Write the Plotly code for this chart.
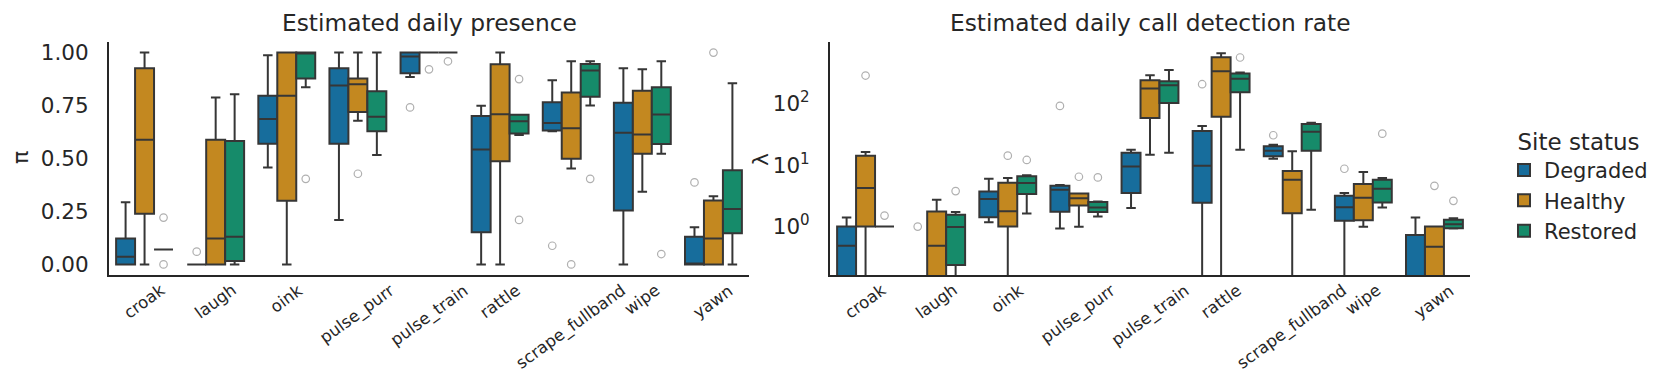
import numpy as np
import plotly.graph_objects as go
from plotly.subplots import make_subplots

categories = ["croak", "laugh", "oink", "pulse_purr", "pulse_train",
              "rattle", "scrape_fullband", "wipe", "yawn"]
statuses = ["Degraded", "Healthy", "Restored"]
colors = ["#176d9c", "#c38820", "#168b6a"]

# each row: (lower whisker, q1, median, q3, upper whisker), one per call type
presence_degraded = [
    (0, 0, 0.036, 0.122, 0.294), (0, 0, 0, 0, 0), (0.458, 0.570, 0.686, 0.796, 0.987),
    (0.21, 0.570, 0.845, 0.926, 1.0), (0.885, 0.902, 0.981, 1.0, 1.0), (0, 0.152, 0.543, 0.701, 0.749),
    (0.629, 0.632, 0.668, 0.765, 0.870), (0, 0.254, 0.622, 0.763, 0.926), (0, 0, 0, 0.131, 0.175),
]
presence_healthy = [
    (0, 0.239, 0.589, 0.926, 1.0), (0, 0, 0.122, 0.589, 0.788), (0, 0.300, 0.796, 1.0, 1.0),
    (0.678, 0.720, 0.851, 0.878, 1.0), (1.0, 1.0, 1.0, 1.0, 1.0), (0, 0.487, 0.709, 0.945, 1.0),
    (0.453, 0.499, 0.643, 0.812, 0.959), (0.343, 0.523, 0.613, 0.820, 0.921), (0, 0, 0.122, 0.302, 0.322),
]
presence_restored = [
    (0.07, 0.07, 0.07, 0.07, 0.07), (0, 0.016, 0.131, 0.583, 0.803), (0.836, 0.878, 1.0, 1.0, 1.0),
    (0.517, 0.629, 0.697, 0.817, 1.0), (1.0, 1.0, 1.0, 1.0, 1.0), (0.611, 0.618, 0.676, 0.706, 0.706),
    (0.750, 0.791, 0.915, 0.946, 0.959), (0.523, 0.569, 0.708, 0.836, 0.959), (0, 0.147, 0.262, 0.445, 0.855),
]
presence_out_degraded = [("laugh", 0.06), ("pulse_train", 0.741), ("scrape_fullband", 0.088), ("yawn", 0.387)]
presence_out_healthy = [("pulse_purr", 0.428), ("pulse_train", 0.921), ("scrape_fullband", 0.0), ("yawn", 1.0)]
presence_out_restored = [("croak", 0.221), ("croak", 0.0), ("oink", 0.404), ("pulse_train", 0.959),
                         ("rattle", 0.875), ("rattle", 0.21), ("scrape_fullband", 0.404), ("wipe", 0.049)]

rate_degraded = [
    (0, 0, 0.49, 1.0, 1.41), (0, 0, 0, 0, 0), (1.18, 1.42, 2.82, 3.73, 5.98),
    (0.93, 1.74, 3.96, 4.6, 4.75), (2.0, 3.5, 9.5, 15.9, 17.7), (0, 2.43, 9.75, 35.8, 43.2),
    (12.7, 13.9, 17.1, 20.2, 21.4), (0, 1.24, 2.07, 3.16, 3.5), (0, 0, 0, 0.73, 1.41),
]
rate_healthy = [
    (0, 1.0, 4.22, 14.2, 16.3), (0, 0, 0.49, 1.76, 2.72), (0, 1.0, 1.78, 5.15, 6.14),
    (0.99, 2.2, 2.9, 3.46, 3.46), (14.7, 58.2, 175, 239, 289), (0, 61.2, 336, 567, 659),
    (0, 1.65, 5.77, 7.98, 16.7), (0.99, 1.27, 2.94, 4.91, 7.69), (0, 0, 0.47, 1.0, 1.0),
]
rate_restored = [
    (1.0, 1.0, 1.0, 1.0, 1.0), (0, 0.238, 0.98, 1.55, 1.72), (1.63, 3.37, 5.09, 6.55, 6.8),
    (1.46, 1.72, 2.05, 2.5, 2.55), (15.9, 102, 199, 231, 352), (17.7, 153, 252, 307, 319),
    (1.87, 17.1, 34.8, 46.5, 48.9), (2.05, 2.47, 4.11, 5.77, 6.14), (0.93, 0.94, 1.09, 1.29, 1.36),
]
rate_out_degraded = [("laugh", 1.0), ("pulse_purr", 91.4), ("rattle", 206), ("scrape_fullband", 30.5), ("wipe", 8.7)]
rate_out_healthy = [("croak", 285), ("oink", 14.2), ("pulse_purr", 6.45), ("yawn", 4.6)]
rate_out_restored = [("croak", 1.51), ("laugh", 3.77), ("oink", 12.1), ("pulse_purr", 6.3),
                     ("rattle", 560), ("wipe", 32.4), ("yawn", 2.62)]

BOX_W = 0.8 / 3
LINE = "#363636"
TXT = "#262626"
FONT = "DejaVu Sans"

fig = make_subplots(rows=1, cols=2)


def add_boxes(col, stats, outliers, floor=None):
    for j, status in enumerate(statuses):
        s = np.array(stats[j], dtype=float)
        if floor is not None:
            # zeros can't sit on a log axis, push them below the visible range
            s = np.maximum(s, floor)
        pos = np.arange(len(categories)) + (j - 1) * BOX_W
        fig.add_trace(go.Box(
            x=pos, lowerfence=s[:, 0], q1=s[:, 1], median=s[:, 2], q3=s[:, 3], upperfence=s[:, 4],
            width=BOX_W, whiskerwidth=0.5, fillcolor=colors[j],
            line=dict(color=LINE, width=2), boxpoints=False,
            name=status, legendgroup=status, showlegend=(col == 1), hoverinfo="skip",
        ), row=1, col=col)
        ox = [categories.index(c) + (j - 1) * BOX_W for c, v in outliers[j]]
        oy = [v for c, v in outliers[j]]
        fig.add_trace(go.Scatter(
            x=ox, y=oy, mode="markers", showlegend=False, hoverinfo="skip",
            marker=dict(symbol="circle-open", size=7.5, color="#b0b0b0", line=dict(width=1.2)),
        ), row=1, col=col)


add_boxes(1, [presence_degraded, presence_healthy, presence_restored],
          [presence_out_degraded, presence_out_healthy, presence_out_restored])
add_boxes(2, [rate_degraded, rate_healthy, rate_restored],
          [rate_out_degraded, rate_out_healthy, rate_out_restored], floor=1e-3)

W, H = 1659, 379
top, bottom = 34, 112
ph = H - top - bottom

ax_common = dict(showgrid=False, zeroline=False, showline=True, linecolor=TXT, linewidth=2,
                 ticks="", mirror=False)
fig.update_xaxes(range=[-0.5, len(categories) - 0.5], showticklabels=False, **ax_common)
fig.update_xaxes(domain=[101 / W, 741 / W], row=1, col=1)
fig.update_xaxes(domain=[822 / W, 1462 / W], row=1, col=2)
fig.update_yaxes(range=[-0.05, 1.05], tickvals=[0, 0.25, 0.5, 0.75, 1.0], tickformat=".2f",
                 tickfont=dict(size=21.5, color=TXT), ticklabelstandoff=14, row=1, col=1, **ax_common)
fig.update_yaxes(type="log", range=[-0.787, 3.0], tickvals=[1, 10, 100],
                 ticktext=["10<sup>0</sup>", "10<sup>1</sup>", "10<sup>2</sup>"],
                 tickfont=dict(size=21.5, color=TXT), ticklabelstandoff=14, row=1, col=2, **ax_common)

ann = []
# rotated category labels, centred under each group like matplotlib
for xref in ["x", "x2"]:
    for i, c in enumerate(categories):
        ann.append(dict(x=i, y=0, xref=xref, yref="paper", text=c, showarrow=False,
                        textangle=-36, xanchor="center", yanchor="top", yshift=-3,
                        font=dict(size=16.5, color=TXT)))
ann.append(dict(x=421 / W, y=1 + 20 / ph, xref="paper", yref="paper", text="Estimated daily presence",
                showarrow=False, xanchor="center", yanchor="middle", font=dict(size=23.3, color=TXT)))
ann.append(dict(x=1142 / W, y=1 + 20 / ph, xref="paper", yref="paper",
                text="Estimated daily call detection rate",
                showarrow=False, xanchor="center", yanchor="middle", font=dict(size=23.3, color=TXT)))
ann.append(dict(x=12 / W, y=(H - bottom - 150) / ph, xref="paper", yref="paper", text="π",
                textangle=-90, showarrow=False, xanchor="center", yanchor="middle",
                font=dict(size=22, color=TXT)))
ann.append(dict(x=752 / W, y=(H - bottom - 152) / ph, xref="paper", yref="paper", text="λ",
                textangle=-90, showarrow=False, xanchor="center", yanchor="middle",
                font=dict(size=22, color=TXT)))

fig.update_layout(
    width=W, height=H,
    margin=dict(l=0, r=0, t=top, b=bottom),
    plot_bgcolor="white", paper_bgcolor="white",
    font=dict(family=FONT, color=TXT),
    annotations=ann,
    legend=dict(
        title=dict(text="Site status", side="top center", font=dict(size=23)),
        font=dict(size=21), x=1496 / W, y=(H - bottom - 112) / ph,
        xanchor="left", yanchor="top", bgcolor="rgba(0,0,0,0)", tracegroupgap=0,
    ),
)

fig.write_html("out.html")
